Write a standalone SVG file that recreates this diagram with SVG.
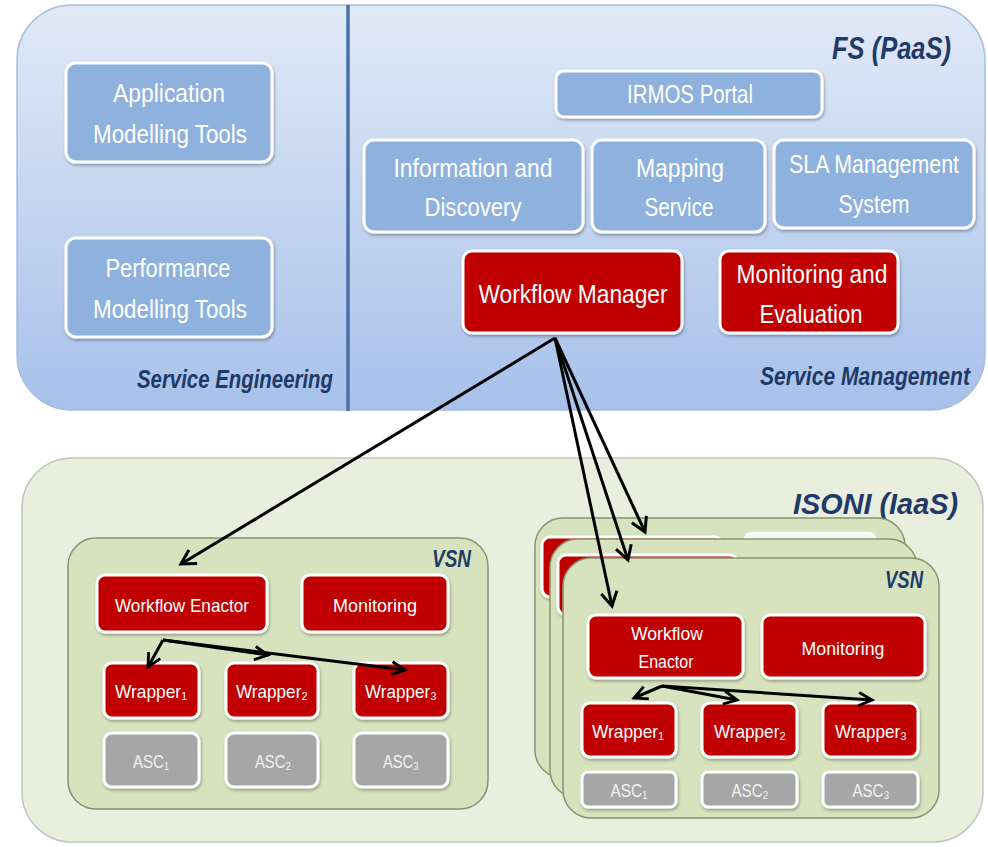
<svg xmlns="http://www.w3.org/2000/svg" width="988" height="847" viewBox="0 0 988 847">
<defs>
<linearGradient id="gTop" x1="0" y1="0" x2="0" y2="1">
<stop offset="0" stop-color="#e1e9f7"/>
<stop offset="1" stop-color="#a7c1ea"/>
</linearGradient>
<filter id="sh" x="-10%" y="-10%" width="120%" height="130%">
<feDropShadow dx="1" dy="2" stdDeviation="1.5" flood-color="#000" flood-opacity="0.3"/>
</filter>
<marker id="arr" markerUnits="userSpaceOnUse" viewBox="0 0 20 20" markerWidth="20" markerHeight="20" refX="17" refY="10" orient="auto">
<path d="M3,2 L17,10 L3,18" fill="none" stroke="#000" stroke-width="3" stroke-linejoin="miter"/>
</marker>
<marker id="arrS" markerUnits="userSpaceOnUse" viewBox="0 0 20 20" markerWidth="19" markerHeight="19" refX="17" refY="10" orient="auto">
<path d="M3,3 L17,10 L3,17" fill="none" stroke="#000" stroke-width="3" stroke-linejoin="miter"/>
</marker>
</defs>
<style>
text{font-family:"Liberation Sans",Arial,"DejaVu Sans",sans-serif;}
.panelTop{fill:url(#gTop);stroke:#a9bcdb;stroke-width:1.5;}
.panelBot{fill:#e9eede;stroke:#bfc8b5;stroke-width:1.5;}
.vsn{fill:#d7e3be;stroke:#87946f;stroke-width:1.5;}
.blue{fill:#8eb1de;stroke:#fff;stroke-width:3;filter:url(#sh);}
.red{fill:#c00000;stroke:#fff;stroke-width:3;filter:url(#sh);}
.gray{fill:#a6a6a6;stroke:#fff;stroke-width:3;filter:url(#sh);}
.wt{fill:#fff;}
.lt{fill:#f2f2f2;}
.big{font-size:26px;text-anchor:middle;}
.sm{font-size:19px;text-anchor:middle;}
.head{fill:#1f3a68;font-style:italic;font-weight:bold;}
.conn{stroke:#000;stroke-width:3;fill:none;}
</style>

<g id="fs-paas">
<rect class="panelTop" x="17" y="5" width="968" height="405" rx="55"/>
<line x1="348" y1="5" x2="348" y2="411" stroke="#4a70a8" stroke-width="3.5"/>
<text class="head" x="951" y="59" font-size="32" text-anchor="end" textLength="119" lengthAdjust="spacingAndGlyphs">FS (PaaS)</text>
<text class="head" x="333" y="388" font-size="26" text-anchor="end" textLength="196" lengthAdjust="spacingAndGlyphs">Service Engineering</text>
<text class="head" x="970" y="385" font-size="26" text-anchor="end" textLength="210" lengthAdjust="spacingAndGlyphs">Service Management</text>
</g>

<g id="app-modelling">
<rect class="blue" x="66" y="63" width="206" height="99" rx="10"/>
<text class="wt big" x="169" y="102" textLength="112" lengthAdjust="spacingAndGlyphs">Application</text>
<text class="wt big" x="170" y="143" textLength="154" lengthAdjust="spacingAndGlyphs">Modelling Tools</text>
</g>
<g id="perf-modelling">
<rect class="blue" x="66" y="238" width="206" height="99" rx="10"/>
<text class="wt big" x="168" y="277" textLength="125" lengthAdjust="spacingAndGlyphs">Performance</text>
<text class="wt big" x="170" y="318" textLength="154" lengthAdjust="spacingAndGlyphs">Modelling Tools</text>
</g>
<g id="irmos-portal">
<rect class="blue" x="556" y="71" width="266" height="46" rx="8"/>
<text class="wt big" x="690" y="103" textLength="126" lengthAdjust="spacingAndGlyphs">IRMOS Portal</text>
</g>
<g id="info-discovery">
<rect class="blue" x="364" y="140" width="219" height="92" rx="10"/>
<text class="wt big" x="473" y="177" textLength="159" lengthAdjust="spacingAndGlyphs">Information and</text>
<text class="wt big" x="473" y="216" textLength="97" lengthAdjust="spacingAndGlyphs">Discovery</text>
</g>
<g id="mapping-service">
<rect class="blue" x="592" y="140" width="173" height="92" rx="10"/>
<text class="wt big" x="680" y="177" textLength="88" lengthAdjust="spacingAndGlyphs">Mapping</text>
<text class="wt big" x="679" y="216" textLength="69" lengthAdjust="spacingAndGlyphs">Service</text>
</g>
<g id="sla-management">
<rect class="blue" x="774" y="140" width="200" height="88" rx="10"/>
<text class="wt big" x="874" y="173" font-size="23" textLength="170" lengthAdjust="spacingAndGlyphs">SLA Management</text>
<text class="wt big" x="874" y="213" textLength="71" lengthAdjust="spacingAndGlyphs">System</text>
</g>
<g id="workflow-manager">
<rect class="red" x="463" y="251" width="219" height="82" rx="9"/>
<text class="wt big" x="573" y="303" textLength="189" lengthAdjust="spacingAndGlyphs">Workflow Manager</text>
</g>
<g id="monitoring-evaluation">
<rect class="red" x="720" y="251" width="178" height="82" rx="9"/>
<text class="wt big" x="812" y="283" textLength="151" lengthAdjust="spacingAndGlyphs">Monitoring and</text>
<text class="wt big" x="811" y="323" textLength="103" lengthAdjust="spacingAndGlyphs">Evaluation</text>
</g>

<g id="isoni-iaas">
<rect class="panelBot" x="22" y="458" width="961" height="384" rx="50"/>
<text class="head" x="958" y="514" font-size="30" text-anchor="end" textLength="165" lengthAdjust="spacingAndGlyphs">ISONI (IaaS)</text>
</g>

<g id="vsn-left">
<rect class="vsn" x="68" y="538" width="420" height="271" rx="28"/>
<text class="head" x="471" y="567" font-size="23" text-anchor="end" textLength="39" lengthAdjust="spacingAndGlyphs">VSN</text>
</g>
<g id="we-left">
<rect class="red" x="97" y="575" width="170" height="57" rx="8"/>
<text class="wt sm" x="182" y="612" textLength="134" lengthAdjust="spacingAndGlyphs">Workflow Enactor</text>
</g>
<g id="mon-left">
<rect class="red" x="302" y="575" width="146" height="57" rx="8"/>
<text class="wt sm" x="375" y="612" textLength="84" lengthAdjust="spacingAndGlyphs">Monitoring</text>
</g>
<g id="w1-left">
<rect class="red" x="104" y="663" width="95" height="55" rx="8"/>
<text class="wt sm" x="151" y="698" textLength="72" lengthAdjust="spacingAndGlyphs">Wrapper₁</text>
</g>
<g id="w2-left">
<rect class="red" x="226" y="663" width="92" height="55" rx="8"/>
<text class="wt sm" x="272" y="698" textLength="72" lengthAdjust="spacingAndGlyphs">Wrapper₂</text>
</g>
<g id="w3-left">
<rect class="red" x="354" y="663" width="94" height="55" rx="8"/>
<text class="wt sm" x="401" y="698" textLength="72" lengthAdjust="spacingAndGlyphs">Wrapper₃</text>
</g>
<g id="asc1-left">
<rect class="gray" x="104" y="733" width="95" height="54" rx="8"/>
<text class="lt sm" x="151" y="768" textLength="36" lengthAdjust="spacingAndGlyphs">ASC₁</text>
</g>
<g id="asc2-left">
<rect class="gray" x="226" y="733" width="92" height="54" rx="8"/>
<text class="lt sm" x="273" y="768" textLength="36" lengthAdjust="spacingAndGlyphs">ASC₂</text>
</g>
<g id="asc3-left">
<rect class="gray" x="354" y="733" width="94" height="54" rx="8"/>
<text class="lt sm" x="401" y="768" textLength="36" lengthAdjust="spacingAndGlyphs">ASC₃</text>
</g>

<g id="vsn-back">
<rect class="vsn" x="535" y="518" width="370" height="260" rx="28"/>
<rect class="red" x="542" y="537" width="181" height="60" rx="8"/>
<rect x="745" y="533" width="130" height="30" rx="6" fill="#f7f7f2" stroke="#fff" stroke-width="2"/>
</g>
<g id="vsn-middle">
<rect class="vsn" x="550" y="539" width="367" height="259" rx="28"/>
<rect class="red" x="558" y="555" width="180" height="60" rx="8"/>
</g>
<g id="vsn-front">
<rect class="vsn" x="563" y="558" width="376" height="260" rx="28"/>
<text class="head" x="923" y="588" font-size="23" text-anchor="end" textLength="38" lengthAdjust="spacingAndGlyphs">VSN</text>
</g>
<g id="we-right">
<rect class="red" x="588" y="615" width="155" height="63" rx="8"/>
<text class="wt sm" x="667" y="640" textLength="72" lengthAdjust="spacingAndGlyphs">Workflow</text>
<text class="wt sm" x="666" y="668" textLength="55" lengthAdjust="spacingAndGlyphs">Enactor</text>
</g>
<g id="mon-right">
<rect class="red" x="762" y="615" width="163" height="63" rx="8"/>
<text class="wt sm" x="843" y="655" textLength="83" lengthAdjust="spacingAndGlyphs">Monitoring</text>
</g>
<g id="w1-right">
<rect class="red" x="582" y="703" width="94" height="54" rx="8"/>
<text class="wt sm" x="628" y="738" textLength="72" lengthAdjust="spacingAndGlyphs">Wrapper₁</text>
</g>
<g id="w2-right">
<rect class="red" x="702" y="703" width="95" height="54" rx="8"/>
<text class="wt sm" x="750" y="738" textLength="72" lengthAdjust="spacingAndGlyphs">Wrapper₂</text>
</g>
<g id="w3-right">
<rect class="red" x="823" y="703" width="95" height="54" rx="8"/>
<text class="wt sm" x="871" y="738" textLength="72" lengthAdjust="spacingAndGlyphs">Wrapper₃</text>
</g>
<g id="asc1-right">
<rect class="gray" x="582" y="772" width="94" height="35" rx="6"/>
<text class="lt sm" x="629" y="797" textLength="37" lengthAdjust="spacingAndGlyphs">ASC₁</text>
</g>
<g id="asc2-right">
<rect class="gray" x="702" y="772" width="95" height="35" rx="6"/>
<text class="lt sm" x="750" y="797" textLength="37" lengthAdjust="spacingAndGlyphs">ASC₂</text>
</g>
<g id="asc3-right">
<rect class="gray" x="823" y="772" width="95" height="35" rx="6"/>
<text class="lt sm" x="871" y="797" textLength="37" lengthAdjust="spacingAndGlyphs">ASC₃</text>
</g>

<g id="connectors">
<line class="conn" x1="555" y1="338" x2="181" y2="564" marker-end="url(#arr)"/>
<line class="conn" x1="555" y1="338" x2="612" y2="606" marker-end="url(#arr)"/>
<line class="conn" x1="555" y1="338" x2="628" y2="560" marker-end="url(#arr)"/>
<line class="conn" x1="555" y1="338" x2="645" y2="532" marker-end="url(#arr)"/>
<line class="conn" x1="163" y1="640" x2="148" y2="667" marker-end="url(#arrS)"/>
<line class="conn" x1="163" y1="640" x2="268" y2="655" marker-end="url(#arrS)"/>
<line class="conn" x1="163" y1="640" x2="405" y2="670" marker-end="url(#arrS)"/>
<line class="conn" x1="662" y1="686" x2="634" y2="698" marker-end="url(#arrS)"/>
<line class="conn" x1="662" y1="686" x2="737" y2="700" marker-end="url(#arrS)"/>
<line class="conn" x1="662" y1="686" x2="872" y2="700" marker-end="url(#arrS)"/>
</g>
</svg>
